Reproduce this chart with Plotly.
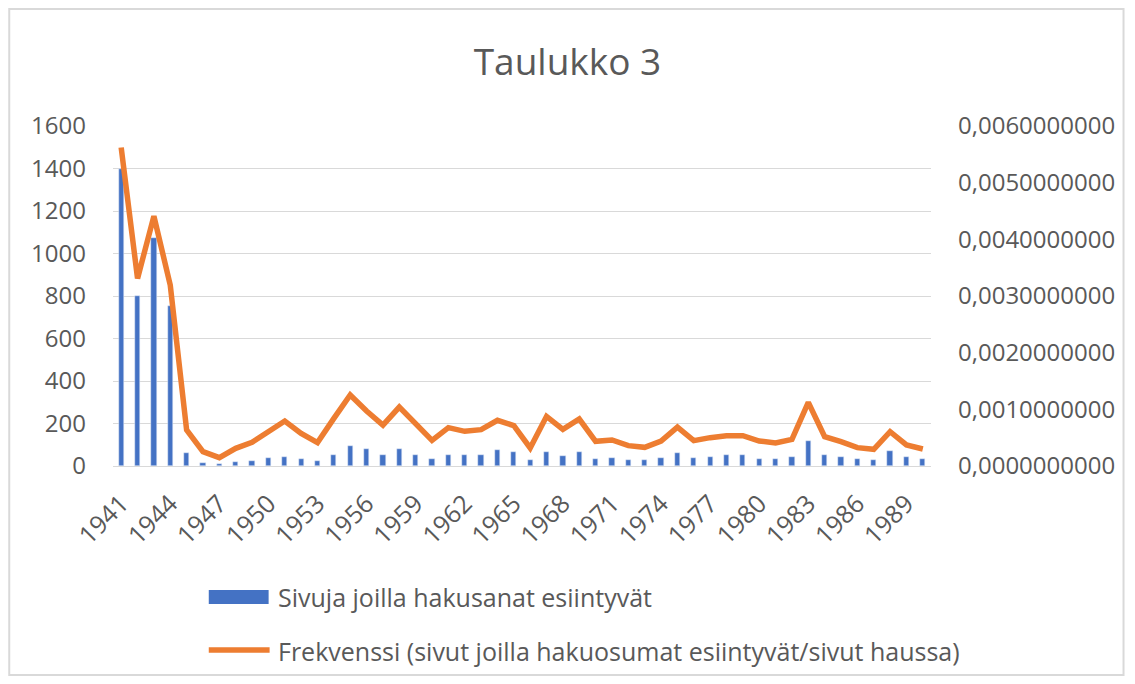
import plotly.graph_objects as go

years = [1941, 1942, 1943, 1944, 1945, 1946, 1947, 1948, 1949, 1950,
         1951, 1952, 1953, 1954, 1955, 1956, 1957, 1958, 1959, 1960,
         1961, 1962, 1963, 1964, 1965, 1966, 1967, 1968, 1969, 1970,
         1971, 1972, 1973, 1974, 1975, 1976, 1977, 1978, 1979, 1980,
         1981, 1982, 1983, 1984, 1985, 1986, 1987, 1988, 1989, 1990]

pages = [1400, 800, 1075, 753, 60, 13, 10, 20, 25, 36,
         42, 33, 24, 52, 94, 78, 51, 80, 53, 35,
         53, 50, 53, 74, 64, 27, 67, 47, 64, 35,
         38, 28, 28, 38, 60, 38, 44, 50, 50, 35,
         35, 41, 116, 50, 44, 31, 28, 69, 41, 35]

freq = [0.00562, 0.00331, 0.00441, 0.00319, 0.000635, 0.000253, 0.000147, 0.000312, 0.000418, 0.000594,
        0.000794, 0.000576, 0.000412, 0.000841, 0.001253, 0.000971, 0.00072, 0.00104, 0.000747, 0.000453,
        0.000676, 0.000612, 0.000641, 0.000806, 0.000712, 0.000318, 0.000876, 0.000647, 0.000829, 0.000435,
        0.000459, 0.000359, 0.000329, 0.000438, 0.000685, 0.000447, 0.0005, 0.000535, 0.000535, 0.000441,
        0.000406, 0.00047, 0.001124, 0.000518, 0.000429, 0.000324, 0.000294, 0.000606, 0.000371, 0.0003]

tick_years = [1941, 1944, 1947, 1950, 1953, 1956, 1959, 1962, 1965, 1968,
              1971, 1974, 1977, 1980, 1983, 1986, 1989]

bar_name = "Sivuja joilla hakusanat esiintyvät"
line_name = "Frekvenssi (sivut joilla hakuosumat esiintyvät/sivut haussa)"

FONT = "Open Sans"
GREY = "#595959"
BLUE = "#4472C4"
ORANGE = "#ED7D31"

# page has an 8px body margin; figure coordinates = page - 8
W, H = 1119, 668
L, R, T, B = 105, 925, 118, 458
pw, ph = R - L, B - T


def px(fx):
    return (fx - L) / pw


def py(fy):
    return (B - fy) / ph


fig = go.Figure()
fig.add_trace(go.Bar(x=years, y=pages, name=bar_name, marker_color=BLUE,
                     width=0.32, showlegend=False))
fig.add_trace(go.Scatter(x=years, y=freq, name=line_name, mode="lines",
                         line=dict(color=ORANGE, width=5.5), yaxis="y2",
                         showlegend=False))

fig.update_layout(
    width=W, height=H,
    margin=dict(l=L, r=W - R, t=T, b=H - B, pad=0),
    paper_bgcolor="white", plot_bgcolor="white",
    separators=",.",
    showlegend=False,
    font=dict(family=FONT, color=GREY, size=24),
    title=dict(text="Taulukko 3", x=0.5, xanchor="center", y=1 - 54 / H,
               yanchor="middle", font=dict(size=37, color=GREY, family=FONT)),
    xaxis=dict(range=[1940.5, 1990.5], tickmode="array", tickvals=tick_years,
               ticktext=[str(t) for t in tick_years], tickangle=-45,
               showgrid=False, showline=True, linecolor="#d9d9d9", linewidth=1,
               ticks="", tickfont=dict(size=25, color=GREY), zeroline=False,
               ticklabelstandoff=12),
    yaxis=dict(range=[0, 1600], dtick=200, showgrid=True, gridcolor="#d9d9d9",
               gridwidth=1, zeroline=False, showline=False, ticks="",
               tickfont=dict(size=24, color=GREY), ticklabelstandoff=26),
    yaxis2=dict(range=[0, 0.006], dtick=0.001, overlaying="y", side="right",
                tickformat=".10f", showgrid=False, zeroline=False, ticks="",
                tickfont=dict(size=24, color=GREY), ticklabelstandoff=26),
    bargap=0,
    shapes=[
        dict(type="rect", xref="paper", yref="paper",
             x0=px(1), x1=px(1118), y0=py(667), y1=py(1),
             line=dict(color="#d9d9d9", width=2), fillcolor="rgba(0,0,0,0)",
             layer="below"),
        dict(type="rect", xref="paper", yref="paper",
             x0=px(201), x1=px(261), y0=py(596), y1=py(582),
             line=dict(width=0), fillcolor=BLUE),
        dict(type="line", xref="paper", yref="paper",
             x0=px(201), x1=px(262), y0=py(642), y1=py(642),
             line=dict(color=ORANGE, width=5.5)),
    ],
    annotations=[
        dict(text=bar_name, xref="paper", yref="paper", x=px(268), y=py(589),
             xanchor="left", yanchor="middle", showarrow=False,
             font=dict(size=25, color=GREY, family=FONT)),
        dict(text=line_name, xref="paper", yref="paper", x=px(268), y=py(643),
             xanchor="left", yanchor="middle", showarrow=False,
             font=dict(size=25, color=GREY, family=FONT)),
    ],
)

fig.write_html("out.html")
